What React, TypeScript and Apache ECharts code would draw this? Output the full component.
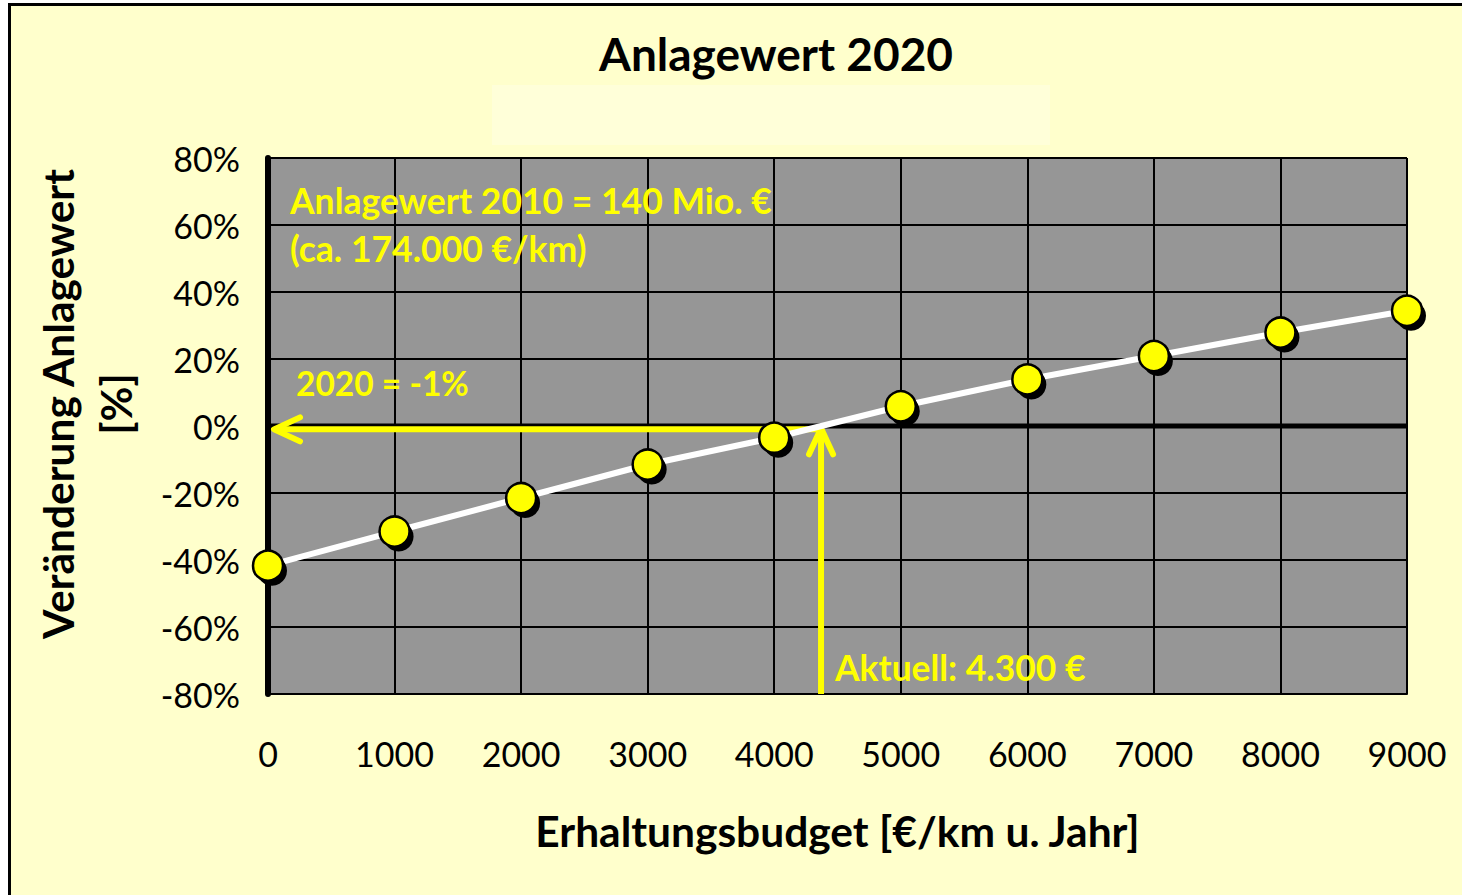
import React, { useEffect, useRef } from "react";
import * as echarts from "echarts";

// ---- data ----
const budgets = [0, 1000, 2000, 3000, 4000, 5000, 6000, 7000, 8000, 9000];
const changes = [-41.7, -31.5, -21.5, -11.5, -3.5, 5.9, 13.9, 20.9, 27.9, 34.4];
const xMin = 0;
const xMax = 9000;
const xStep = 1000;
const yMin = -80;
const yMax = 80;
const yStep = 20;
const currentBudget = 4370;
const currentChange = -1;

// ---- texts ----
const titleText = "Anlagewert 2020";
const xAxisName = "Erhaltungsbudget [€/km u. Jahr]";
const yAxisName = "Veränderung Anlagewert\n[%]";
const noteValue = ["Anlagewert 2010 = 140 Mio. €", "(ca. 174.000 €/km)"];
const noteResult = "2020 = -1%";
const noteCurrent = "Aktuell: 4.300 €";

const FONT = "Lato, 'Noto Sans', sans-serif";
const YELLOW = "#FFFF00";

function note(text: string, x: number, y: number, size: number) {
  return {
    type: "text",
    x,
    y,
    z: 10,
    style: {
      text,
      textVerticalAlign: "middle",
      fontSize: size,
      fontWeight: "bold",
      fontFamily: FONT,
      fill: YELLOW,
    },
  };
}

export default function App() {
  const ref = useRef<HTMLDivElement>(null);

  useEffect(() => {
    if (!ref.current) return;
    const chart = echarts.init(ref.current, null, { renderer: "svg" });
    const points = budgets.map((b, i) => [b, changes[i]]);

    const option: any = {
      animation: false,
      backgroundColor: "#FFFFFF",
      textStyle: { fontFamily: FONT },
      graphic: [
        {
          type: "rect",
          z: -100,
          shape: { x: 9.5, y: 4.5, width: 1520, height: 1000 },
          style: { fill: "#FFFFCC", stroke: "#000000", lineWidth: 3 },
        },
        {
          type: "rect",
          z: -99,
          shape: { x: 492, y: 85, width: 558, height: 60 },
          style: { fill: "#FFFFD9" },
        },
        {
          type: "text",
          x: 776,
          y: 53,
          style: {
            text: titleText,
            textAlign: "center",
            textVerticalAlign: "middle",
            fontSize: 46,
            fontWeight: "bold",
            fontFamily: FONT,
            fill: "#000000",
          },
        },
        note(noteValue[0], 290, 200, 35.5),
        note(noteValue[1], 290, 248, 35.5),
        note(noteResult, 296, 383, 33.5),
        note(noteCurrent, 835, 667, 35.4),
      ],
      grid: {
        left: 268,
        right: 55,
        top: 158,
        bottom: 201,
        show: true,
        backgroundColor: "#969696",
        borderWidth: 0,
        containLabel: false,
        outerBoundsMode: "none",
      },
      xAxis: {
        type: "value",
        min: xMin,
        max: xMax,
        interval: xStep,
        axisLine: { show: true, onZero: false, lineStyle: { color: "#000", width: 2 } },
        axisTick: { show: false },
        splitLine: { show: true, lineStyle: { color: "#000", width: 2 } },
        axisLabel: {
          fontSize: 34,
          color: "#000",
          margin: 42,
          fontFamily: FONT,
          formatter: (v: number) => String(v),
        },
        name: xAxisName,
        nameLocation: "middle",
        nameGap: 115,
        nameTextStyle: { fontSize: 42.5, fontWeight: "bold", color: "#000", fontFamily: FONT },
      },
      yAxis: {
        type: "value",
        min: yMin,
        max: yMax,
        interval: yStep,
        axisLine: { show: true, lineStyle: { color: "#000", width: 6 } },
        axisTick: { show: false },
        splitLine: { show: true, lineStyle: { color: "#000", width: 2 } },
        axisLabel: {
          fontSize: 34,
          color: "#000",
          margin: 28,
          fontFamily: FONT,
          formatter: "{value}%",
        },
        name: yAxisName,
        nameLocation: "middle",
        nameGap: 124,
        nameTextStyle: {
          fontSize: 42.5,
          fontWeight: "bold",
          color: "#000",
          lineHeight: 58,
          fontFamily: FONT,
          padding: [0, 0, 0, 44],
        },
      },
      series: [
        {
          type: "custom",
          z: 2,
          silent: true,
          clip: false,
          data: [[currentBudget, currentChange]],
          encode: { x: 0, y: 1 },
          renderItem: (params: any, api: any) => {
            const bx = api.value(0);
            const cy = api.value(1);
            const p = api.coord([bx, cy]);
            const left = api.coord([xMin, cy]);
            const bottom = api.coord([bx, yMin]);
            const z0a = api.coord([xMin, 0]);
            const z0b = api.coord([xMax, 0]);
            const tipX = left[0] + 6;
            const tipY = p[1] - 1;
            return {
              type: "group",
              children: [
                {
                  type: "line",
                  shape: { x1: z0a[0], y1: z0a[1], x2: z0b[0], y2: z0b[1] },
                  style: { stroke: "#000", lineWidth: 5 },
                },
                {
                  type: "line",
                  shape: { x1: tipX + 2, y1: p[1], x2: p[0], y2: p[1] },
                  style: { stroke: YELLOW, lineWidth: 6 },
                },
                {
                  type: "polyline",
                  shape: {
                    points: [
                      [tipX + 26, p[1] - 12],
                      [tipX, p[1]],
                      [tipX + 26, p[1] + 12],
                    ],
                  },
                  style: { stroke: YELLOW, lineWidth: 6, fill: "none", lineCap: "round", lineJoin: "round" },
                },
                {
                  type: "line",
                  shape: { x1: p[0], y1: bottom[1], x2: p[0], y2: tipY + 2 },
                  style: { stroke: YELLOW, lineWidth: 6 },
                },
                {
                  type: "polyline",
                  shape: {
                    points: [
                      [p[0] - 12, tipY + 26],
                      [p[0], tipY],
                      [p[0] + 12, tipY + 26],
                    ],
                  },
                  style: { stroke: YELLOW, lineWidth: 6, fill: "none", lineCap: "round", lineJoin: "round" },
                },
              ],
            };
          },
        },
        {
          type: "line",
          z: 3,
          data: points,
          symbol: "none",
          clip: false,
          lineStyle: { color: "#FFFFFF", width: 6 },
          silent: true,
        },
        {
          type: "scatter",
          z: 4,
          data: points,
          symbol: "circle",
          symbolSize: 30,
          symbolOffset: [4, 5],
          clip: false,
          silent: true,
          itemStyle: { color: "#000000", opacity: 1 },
        },
        {
          type: "scatter",
          z: 5,
          data: points,
          symbol: "circle",
          symbolSize: 30,
          clip: false,
          silent: true,
          itemStyle: { color: YELLOW, borderColor: "#000000", borderWidth: 2.5, opacity: 1 },
        },
      ],
    };

    chart.setOption(option);
    return () => chart.dispose();
  }, []);

  return (
    <div
      ref={ref}
      style={{ position: "absolute", left: 0, top: 0, width: 1462, height: 895 }}
    />
  );
}
